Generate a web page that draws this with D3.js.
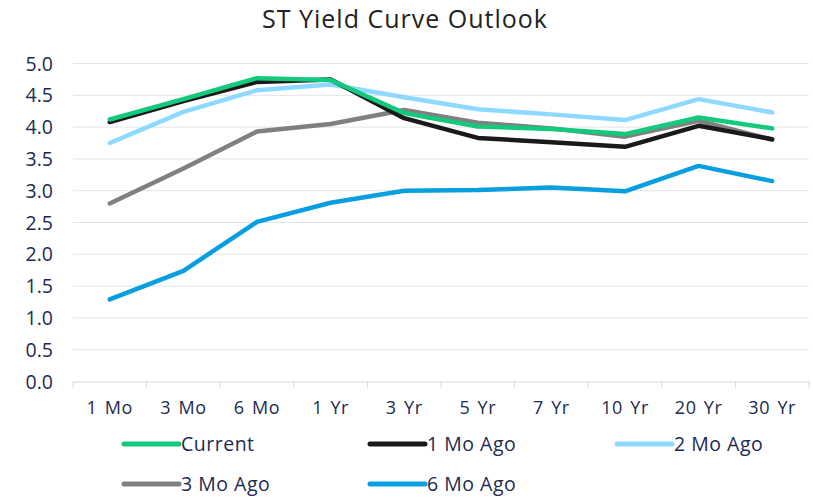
<!DOCTYPE html>
<html>
<head>
<meta charset="utf-8">
<script src="https://cdn.jsdelivr.net/npm/d3@7"></script>
<style>
  body { margin: 0; background: #fff; }
  svg { display: block; font-family: "Open Sans", sans-serif; }
</style>
</head>
<body>
<div id="chart"></div>
<script>
// tenors along the x axis
const tenors = ["1 Mo", "3 Mo", "6 Mo", "1 Yr", "3 Yr", "5 Yr", "7 Yr", "10 Yr", "20 Yr", "30 Yr"];

// yields
const current  = [4.12, 4.44, 4.77, 4.74, 4.22, 4.01, 3.97, 3.89, 4.15, 3.98];
const moAgo1   = [4.08, 4.41, 4.71, 4.75, 4.14, 3.83, 3.76, 3.69, 4.02, 3.81];
const moAgo2   = [3.75, 4.24, 4.58, 4.67, 4.47, 4.28, 4.20, 4.11, 4.44, 4.23];
const moAgo3   = [2.80, 3.35, 3.93, 4.05, 4.27, 4.07, 3.98, 3.85, 4.10, 3.80];
const moAgo6   = [1.29, 1.74, 2.51, 2.81, 3.00, 3.01, 3.05, 2.99, 3.39, 3.15];

const yTicks = [0, 0.5, 1, 1.5, 2, 2.5, 3, 3.5, 4, 4.5, 5];

const series = [
  { name: "Current",   values: current, color: "#13c97c" },
  { name: "1 Mo Ago",  values: moAgo1,  color: "#1a1a1a" },
  { name: "2 Mo Ago",  values: moAgo2,  color: "#8dd9ff" },
  { name: "3 Mo Ago",  values: moAgo3,  color: "#808080" },
  { name: "6 Mo Ago",  values: moAgo6,  color: "#079fe0" }
];

const textColor = "#1d2b4f";
const width = 813, height = 498;
const margin = { top: 63.5, right: 4, bottom: 116.5, left: 73 };

const svg = d3.select("#chart").append("svg")
  .attr("width", width).attr("height", height);

const x = d3.scaleBand().domain(tenors)
  .range([margin.left, width - margin.right]);
const y = d3.scaleLinear().domain([0, 5])
  .range([height - margin.bottom, margin.top]);

// title
svg.append("text")
  .attr("x", 405).attr("y", 28)
  .attr("text-anchor", "middle")
  .attr("fill", "#222")
  .style("font-size", "25px")
  .style("letter-spacing", "1px")
  .text("ST Yield Curve Outlook");

// gridlines
svg.append("g").selectAll("line")
  .data(yTicks.filter(d => d > 0))
  .join("line")
  .attr("x1", margin.left).attr("x2", width - margin.right)
  .attr("y1", d => y(d)).attr("y2", d => y(d))
  .attr("stroke", "#e4e4e8").attr("stroke-width", 1);

// y axis labels
svg.append("g").selectAll("text")
  .data(yTicks)
  .join("text")
  .attr("x", 53).attr("y", d => y(d))
  .attr("dy", "0.36em")
  .attr("text-anchor", "end")
  .attr("fill", textColor)
  .style("font-size", "19.5px")
  .text(d => d.toFixed(1));

// x axis
const xAxis = svg.append("g")
  .attr("transform", `translate(0,${y(0)})`)
  .call(d3.axisBottom(x).tickSize(0).tickPadding(20));
xAxis.select(".domain").attr("stroke", "#d9d9de");
xAxis.selectAll("text")
  .attr("fill", textColor)
  .style("font-size", "18px")
  .style("letter-spacing", "0.6px")
  .style("word-spacing", "2px")
  .style("font-family", "'Open Sans', sans-serif");

// band boundary ticks
const bounds = tenors.map(t => x(t)).concat([x(tenors[tenors.length - 1]) + x.bandwidth()]);
xAxis.selectAll(".bound")
  .data(bounds)
  .join("line")
  .attr("class", "bound")
  .attr("x1", d => d).attr("x2", d => d)
  .attr("y1", 0).attr("y2", 6)
  .attr("stroke", "#d9d9de");

// lines
const line = d3.line()
  .x((d, i) => x(tenors[i]) + x.bandwidth() / 2)
  .y(d => y(d));

svg.append("g").selectAll("path")
  .data(series.slice().reverse())
  .join("path")
  .attr("d", d => line(d.values))
  .attr("fill", "none")
  .attr("stroke", d => d.color)
  .attr("stroke-width", 4.5)
  .attr("stroke-linejoin", "round")
  .attr("stroke-linecap", "round");

// legend
const legendPos = [[124, 444], [370, 444], [617, 444], [124, 484], [370, 484]];
const legend = svg.append("g").selectAll("g")
  .data(series)
  .join("g")
  .attr("transform", (d, i) => `translate(${legendPos[i][0]},${legendPos[i][1]})`);

legend.append("line")
  .attr("x1", 0).attr("x2", 55)
  .attr("stroke", d => d.color)
  .attr("stroke-width", 5)
  .attr("stroke-linecap", "round");

legend.append("text")
  .attr("x", 57).attr("dy", "0.36em")
  .attr("fill", textColor)
  .style("font-size", "19.5px")
  .style("letter-spacing", "0.5px")
  .text(d => d.name);
</script>
</body>
</html>
